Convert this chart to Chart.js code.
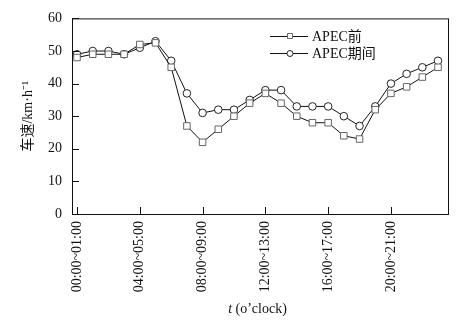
<!DOCTYPE html>
<html>
<head>
<meta charset="utf-8">
<script src="https://cdn.jsdelivr.net/npm/chart.js@4"></script>
<style>
  html, body { margin: 0; padding: 0; background: #fff; }
  #speedChart { display: block; }
</style>
</head>
<body>
<canvas id="speedChart" width="473" height="325"></canvas>
<script>
// hourly slots, one per point
const slotLabels = [
  '00:00~01:00', '01:00~02:00', '02:00~03:00', '03:00~04:00',
  '04:00~05:00', '05:00~06:00', '06:00~07:00', '07:00~08:00',
  '08:00~09:00', '09:00~10:00', '10:00~11:00', '11:00~12:00',
  '12:00~13:00', '13:00~14:00', '14:00~15:00', '15:00~16:00',
  '16:00~17:00', '17:00~18:00', '18:00~19:00', '19:00~20:00',
  '20:00~21:00', '21:00~22:00', '22:00~23:00', '23:00~24:00'
]
// slots that get a label on the x axis
const labelledSlots = [0, 4, 8, 12, 16, 20]
const yTicks = [0, 10, 20, 30, 40, 50, 60]

// average speed, km/h
const speedBefore = [48, 49, 49, 49, 52, 52.5, 45, 27, 22, 26, 30, 34, 37, 34, 30, 28, 28, 24, 23, 32, 37, 39, 42, 45]
const speedDuring = [49, 50, 50, 49, 51, 53, 47, 37, 31, 32, 32, 35, 38, 38, 33, 33, 33, 30, 27, 33, 40, 43, 45, 47]

const seriesNames = ['APEC前', 'APEC期间']

const serif = '"Liberation Serif", "Times New Roman", "Noto Sans CJK SC", serif'

// frame, inward tick marks, legend and x title
const frameAndLegend = {
  id: 'frameAndLegend',
  afterDraw(chart) {
    const { ctx, chartArea: { left, right, top, bottom }, scales: { x, y } } = chart
    ctx.save()
    ctx.strokeStyle = '#111'
    ctx.lineWidth = 1
    ctx.strokeRect(left + 0.5, top + 0.5, right - left - 1, bottom - top)

    ctx.beginPath()
    yTicks.forEach(v => {
      const py = Math.round(y.getPixelForValue(v)) + 0.5
      ctx.moveTo(left, py)
      ctx.lineTo(left + 7, py)
    })
    labelledSlots.forEach(i => {
      const px = Math.round(x.getPixelForValue(i)) + 0.5
      ctx.moveTo(px, bottom)
      ctx.lineTo(px, bottom - 7)
    })
    ctx.stroke()

    // legend
    const rows = [
      { name: seriesNames[0], y: 36, shape: 'rect', color: '#666' },
      { name: seriesNames[1], y: 53, shape: 'circle', color: '#222' }
    ]
    ctx.font = '14px ' + serif
    ctx.textBaseline = 'middle'
    ctx.textAlign = 'left'
    rows.forEach(r => {
      ctx.strokeStyle = '#111'
      ctx.beginPath()
      ctx.moveTo(270, r.y + 0.5)
      ctx.lineTo(308, r.y + 0.5)
      ctx.stroke()
      ctx.fillStyle = '#fff'
      ctx.strokeStyle = r.color
      ctx.beginPath()
      if (r.shape === 'rect') {
        ctx.rect(287.5, r.y - 2.5, 5, 5)
      } else {
        ctx.arc(290, r.y + 0.5, 3, 0, Math.PI * 2)
      }
      ctx.fill()
      ctx.stroke()
      ctx.fillStyle = '#111'
      ctx.fillText(r.name, 312, r.y + 1)
    })

    // x axis title with italic t
    const ty = 309
    ctx.font = 'italic 14px ' + serif
    const tW = ctx.measureText('t').width
    ctx.font = '14px ' + serif
    const restW = ctx.measureText(' (o’clock)').width
    const cx = (left + right) / 2 - 3
    let sx = cx - (tW + restW) / 2
    ctx.font = 'italic 14px ' + serif
    ctx.fillText('t', sx, ty)
    ctx.font = '14px ' + serif
    ctx.fillText(' (o’clock)', sx + tW, ty)
    ctx.restore()
  }
}

new Chart(document.getElementById('speedChart'), {
  type: 'line',
  data: {
    datasets: [
      {
        label: seriesNames[0],
        data: speedBefore.map((v, i) => ({ x: i, y: v })),
        borderColor: '#111',
        borderWidth: 1,
        pointStyle: 'rect',
        pointRadius: 4.6,
        pointBorderColor: '#666',
        pointBackgroundColor: '#fff',
        pointBorderWidth: 1,
        tension: 0
      },
      {
        label: seriesNames[1],
        data: speedDuring.map((v, i) => ({ x: i, y: v })),
        borderColor: '#111',
        borderWidth: 1,
        pointStyle: 'circle',
        pointRadius: 3.8,
        pointBorderColor: '#222',
        pointBackgroundColor: '#fff',
        pointBorderWidth: 1,
        tension: 0
      }
    ]
  },
  options: {
    responsive: false,
    animation: false,
    layout: { padding: { left: 14, right: 24, top: 15, bottom: 0 } },
    plugins: {
      legend: { display: false },
      tooltip: { enabled: false }
    },
    scales: {
      x: {
        type: 'linear',
        min: -0.32,
        max: 23.7,
        grid: { display: false, drawTicks: false },
        border: { display: false },
        afterBuildTicks(scale) {
          scale.ticks = labelledSlots.map(v => ({ value: v }))
        },
        afterFit(scale) { scale.height = 111 },
        ticks: {
          autoSkip: false,
          minRotation: 90,
          maxRotation: 90,
          padding: 7,
          color: '#111',
          font: { family: serif, size: 14 },
          callback: v => slotLabels[v]
        }
      },
      y: {
        min: 0,
        max: 60,
        grid: { display: false, drawTicks: false },
        border: { display: false },
        afterBuildTicks(scale) {
          scale.ticks = yTicks.map(v => ({ value: v }))
        },
        afterFit(scale) { scale.width = 58 },
        ticks: {
          padding: 10,
          color: '#111',
          font: { family: serif, size: 14 }
        },
        title: {
          display: true,
          text: '车速/km·h⁻¹',
          color: '#111',
          padding: { top: 6, bottom: 0 },
          font: { family: serif, size: 14 }
        }
      }
    }
  },
  plugins: [frameAndLegend]
})
</script>
</body>
</html>
